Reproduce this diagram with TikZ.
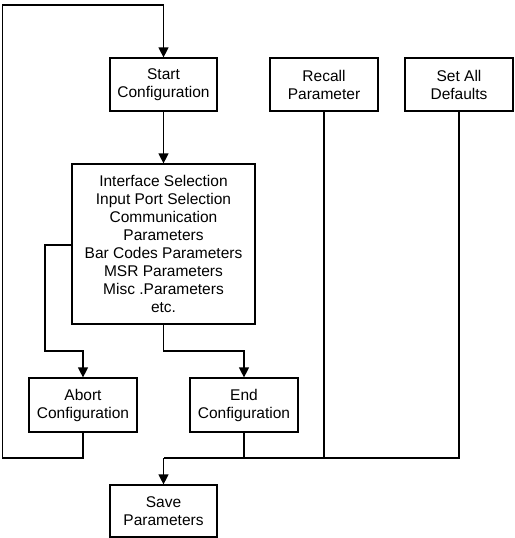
\documentclass[tikz,border=0pt]{standalone}
\usepackage{fontspec}
\setmainfont{Liberation Sans}
\usetikzlibrary{arrows.meta}
\begin{document}
\begin{tikzpicture}[x=1pt,y=-1pt,
  box/.style={draw,line width=1.2pt,align=center,inner sep=0pt,
    font=\fontsize{15.5}{18}\selectfont},
  conn/.style={line width=1.2pt},
  arr/.style={conn,-{Triangle[length=10pt,width=10pt]}}]
\useasboundingbox (0,0) rectangle (514,538);
\node[box,minimum width=107pt,minimum height=53pt] (start) at (163.5,84.5) {Start\\Configuration};
\node[box,minimum width=108pt,minimum height=53pt] (recall) at (324,84.5) {Recall\\Parameter};
\node[box,minimum width=108pt,minimum height=53pt] (defaults) at (459,84.5) {Set All\\Defaults};
\node[box,minimum width=183pt,minimum height=160pt] (mid) at (163.5,244) {Interface Selection\\Input Port Selection\\Communication\\Parameters\\Bar Codes Parameters\\MSR Parameters\\Misc .Parameters\\etc.};
\node[box,minimum width=108pt,minimum height=54pt] (abort) at (83,405) {Abort\\Configuration};
\node[box,minimum width=108pt,minimum height=54pt] (endc) at (244,405) {End\\Configuration};
\node[box,minimum width=107pt,minimum height=52pt] (save) at (163.5,511) {Save\\Parameters};
\coordinate (loopbl) at (2.7,458);
\coordinate (looptl) at (2.7,5);
\coordinate (midl) at (72,245);
\coordinate (abortbend) at (45,351);
\coordinate (endbend) at (163.5,351);
\coordinate (jsave) at (163.5,458);
\coordinate (jdef) at (459,458);
% loop back
\draw[arr] (abort.south) |- (loopbl) -- (looptl) -| (start.north);
\draw[arr] (start.south) -- (mid.north);
\draw[arr] (midl) -| (abortbend) -| (abort.north);
\draw[arr] (mid.south) -- (endbend) -| (endc.north);
\draw[conn] (endc.south) -- (endc.south |- jsave);
\draw[conn] (recall.south) -- (recall.south |- jsave);
\draw[conn] (defaults.south) -- (jdef) -- (jsave);
\draw[arr] (jsave) -- (save.north);
\end{tikzpicture}
\end{document}
